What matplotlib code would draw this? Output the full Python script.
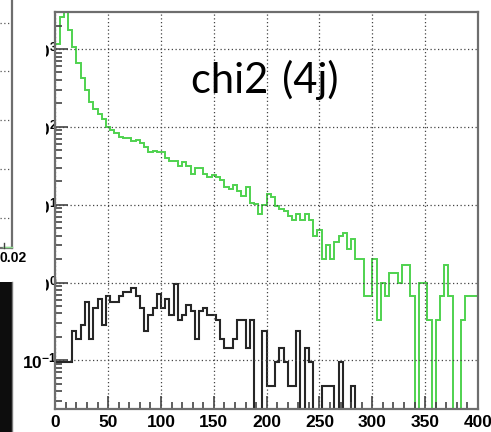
import numpy as np
import matplotlib
matplotlib.use("Agg")
import matplotlib.pyplot as plt
from matplotlib.ticker import MultipleLocator, FixedLocator, FuncFormatter, NullFormatter
from matplotlib.patches import Rectangle

plt.rcParams['font.family'] = ['Liberation Sans', 'DejaVu Sans']
plt.rcParams['mathtext.fontset'] = 'custom'
plt.rcParams['mathtext.rm'] = 'Liberation Sans'
plt.rcParams['mathtext.bf'] = 'Liberation Sans:bold'

# ---- data (100 bins, width 4, range 0-400) ----
bin_edges_range = (0, 400)
n_bins = 100

green_values = [
    1153, 2566, 2960, 1758, 1074, 657, 421, 298, 211, 170,
    145, 126, 101, 91, 83, 75, 71, 71, 65, 68,
    62, 55, 48, 49, 47, 48, 40, 36, 36, 31,
    35, 31, 25, 30, 30, 25, 23, 24, 23, 21,
    17, 16, 18, 15, 13, 17, 10.6, 10.2, 7.6, 9.9,
    13.6, 12.5, 9.6, 8.7, 8.4, 7.2, 6.4, 7.6, 6.4, 7.6,
    6.4, 4.0, 4.67, 2.0, 3.0, 2.0, 3.33, 4.0, 4.33, 2.67,
    3.67, 2.0, 2.0, 0.667, 0.667, 2.0, 0.333, 1.0, 0.667, 1.333,
    1.333, 1.0, 1.667, 1.667, 0.667, 0.0, 1.0, 1.0, 0.333, 0.0,
    0.333, 0.667, 1.667, 0.667, 0.0, 0.0, 0.333, 0.667, 0.667, 0.667,
]

black_values = [
    0.095, 0.095, 0.095, 0.095, 0.237, 0.189, 0.284, 0.568, 0.189, 0.473,
    0.615, 0.284, 0.662, 0.568, 0.568, 0.662, 0.757, 0.757, 0.851, 0.662,
    0.473, 0.237, 0.378, 0.473, 0.710, 0.473, 0.615, 0.378, 0.946, 0.331,
    0.378, 0.520, 0.426, 0.189, 0.426, 0.473, 0.378, 0.378, 0.331, 0.189,
    0.142, 0.142, 0.189, 0.331, 0.331, 0.142, 0.331, 0.0, 0.0, 0.237,
    0.047, 0.047, 0.095, 0.142, 0.095, 0.047, 0.047, 0.237, 0.0, 0.142,
    0.095, 0.0, 0.0, 0.047, 0.047, 0.047, 0.0, 0.095, 0.0, 0.0,
    0.047, 0.0, 0.0, 0.0, 0.0, 0.0, 0.0, 0.0, 0.0, 0.0,
    0.0, 0.0, 0.0, 0.0, 0.0, 0.0, 0.0, 0.0, 0.0, 0.0,
    0.0, 0.0, 0.0, 0.0, 0.0, 0.0, 0.0, 0.0, 0.0, 0.0,
]

x_major_ticks = [0, 50, 100, 150, 200, 250, 300, 350, 400]
y_decades = [-1, 0, 1, 2, 3]
title_text = "chi2\u2004(4j)"
left_panel_label = "0.02"

# ---- figure ----
W, H = 491, 432
fig = plt.figure(figsize=(W / 100, H / 100), dpi=100)
fig.patch.set_facecolor('white')

L, R, T, B = 55.3, 478.0, 12.0, 409.0
ax = fig.add_axes([L / W, (H - B) / H, (R - L) / W, (B - T) / H])

edges = np.linspace(bin_edges_range[0], bin_edges_range[1], n_bins + 1)
green = np.array(green_values, dtype=float)
black = np.array(black_values, dtype=float)

ax.set_yscale('log')
ax.stairs(green, edges, baseline=None, color='#4fd24f', lw=1.4)
ax.stairs(black, edges, baseline=None, color='#262626', lw=1.5)

ax.set_xlim(0, 400)
ax.set_ylim(0.0237, 2990)

# ticks
ax.xaxis.set_major_locator(FixedLocator(x_major_ticks))
ax.xaxis.set_minor_locator(MultipleLocator(10))
ax.yaxis.set_major_locator(FixedLocator([10.0 ** d for d in y_decades]))
minor_y = [m * 10.0 ** d for d in [-2] + y_decades for m in range(2, 10)]
ax.yaxis.set_minor_locator(FixedLocator(minor_y))
ax.yaxis.set_minor_formatter(NullFormatter())
ax.yaxis.set_major_formatter(FuncFormatter(lambda v, p: r'$\mathbf{10^{%d}}$' % round(np.log10(v))))
ax.xaxis.set_major_formatter(FuncFormatter(lambda v, p: '%d' % v))

ax.tick_params(axis='both', which='major', direction='in', length=9.2, width=1.2, color='#444444')
ax.tick_params(axis='both', which='minor', direction='in', length=4.8, width=1.2, color='#444444')
ax.tick_params(axis='x', which='major', labelsize=12.5, pad=4)
ax.tick_params(axis='y', which='major', labelsize=12.5, pad=-1.5)
for lab in ax.get_xticklabels():
    lab.set_fontweight('bold')

ax.grid(True, which='major', color='#444444', linestyle=(0, (1, 2)), lw=0.9)
for s in ax.spines.values():
    s.set_color('#6e6e6e')
    s.set_linewidth(1.6)

ax.text(0.322, 0.829, title_text, transform=ax.transAxes, fontsize=30,
        family=['Lato', 'DejaVu Sans'], color='black', va='center', ha='left')

# ---- overlay: remnant of neighbouring panel on the left ----
ov = fig.add_axes([0, 0, 1, 1], zorder=10)
ov.set_xlim(0, W)
ov.set_ylim(H, 0)
ov.axis('off')
ov.patch.set_alpha(0)
ov.add_patch(Rectangle((0, 0), 46.5, 296, facecolor='white', edgecolor='none'))
for gy in [22.7, 71, 120, 169.3, 218.3]:
    ov.plot([0, 11.7], [gy, gy], color='#555555', lw=0.9, linestyle=(0, (1, 2)))
ov.plot([11.7, 11.7], [0, 248.3], color='#6e6e6e', lw=1.6)
ov.plot([0, 11.7], [248.3, 248.3], color='#6e6e6e', lw=1.6)
ov.plot([3, 11.7], [247.3, 247.3], color='#8fe08f', lw=1.0)
ov.plot([4, 4], [243, 248.3], color='#444444', lw=1.0)
ov.text(-1, 257.5, left_panel_label, fontsize=10, fontweight='bold', ha='left', va='center')
ov.add_patch(Rectangle((0, 282), 11.7, 150, facecolor='#0d0d0d', edgecolor='none'))
ov.plot([11.7, 11.7], [282, 432], color='#7a7a7a', lw=1.0)

fig.savefig('out.png', dpi=100)
